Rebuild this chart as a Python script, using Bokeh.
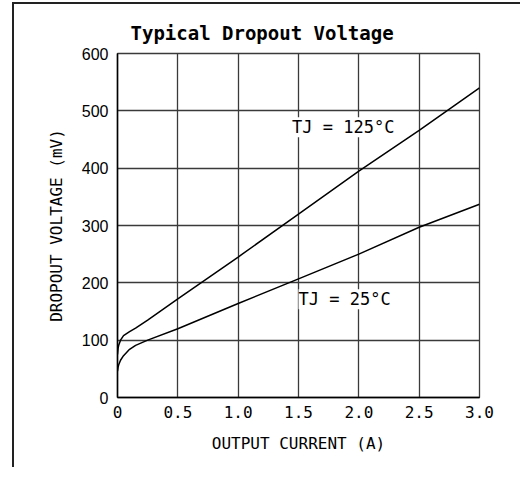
from bokeh.plotting import figure
from bokeh.models import Label, FixedTicker
from bokeh.embed import file_html
from bokeh.resources import INLINE

# Data
current_a = [0.0, 0.005, 0.01, 0.025, 0.05, 0.1, 0.15, 0.25, 0.5, 1.0, 1.5, 2.0, 2.5, 3.0]
dropout_125c = [75, 86, 91, 100, 108, 115, 121, 135, 172, 245, 320, 395, 466, 540]
dropout_25c = [46, 53, 57, 65, 73, 84, 91, 100, 120, 164, 207, 250, 297, 337]
x_ticks = [0, 0.5, 1.0, 1.5, 2.0, 2.5, 3.0]
x_tick_labels = ["0", "0.5", "1.0", "1.5", "2.0", "2.5", "3.0"]
y_ticks = [0, 100, 200, 300, 400, 500, 600]

MONO = "DejaVu Sans Mono"
SANS = "Liberation Sans"
GRID = "#3a3a3a"

p = figure(width=508, height=465, x_range=(0, 3.0), y_range=(0, 600),
           output_backend="svg", toolbar_location=None,
           min_border_left=103, min_border_right=43,
           min_border_top=49, min_border_bottom=72,
           title="Typical Dropout Voltage")
p.styles = {"border-left": "2px solid #222222", "border-top": "2px solid #222222",
            "margin-left": "12px", "margin-top": "2px"}

p.title.text_font = MONO
p.title.text_font_size = "19px"
p.title.text_font_style = "bold"
p.title.text_color = "black"
p.title.align = "left"
p.title.offset = 13
p.title.standoff = 19

p.line(current_a, dropout_125c, line_color="black", line_width=1.5)
p.line(current_a, dropout_25c, line_color="black", line_width=1.5)

# axes
p.xaxis.ticker = FixedTicker(ticks=x_ticks)
p.xaxis.major_label_overrides = {t: l for t, l in zip(x_ticks, x_tick_labels)}
p.yaxis.ticker = FixedTicker(ticks=y_ticks)
for ax in (p.xaxis[0], p.yaxis[0]):
    ax.major_tick_out = 0
    ax.major_tick_in = 0
    ax.minor_tick_out = 0
    ax.minor_tick_in = 0
    ax.axis_line_color = "black"
    ax.axis_line_width = 1.5
    ax.major_label_text_color = "black"
    ax.axis_label_text_color = "black"
    ax.axis_label_text_font_style = "normal"
    ax.axis_label_text_font = MONO
    ax.axis_label_text_font_size = "16px"

p.xaxis.axis_label = "OUTPUT CURRENT (A)"
p.xaxis.major_label_text_font = MONO
p.xaxis.major_label_text_font_size = "16px"
p.xaxis.major_label_standoff = 8
p.xaxis.axis_label_standoff = 13

p.yaxis.axis_label = "DROPOUT VOLTAGE (mV)"
p.yaxis.major_label_text_font = SANS
p.yaxis.major_label_text_font_size = "16px"
p.yaxis.major_label_standoff = 9
p.yaxis.axis_label_standoff = 13

p.grid.grid_line_color = GRID
p.grid.grid_line_width = 1.3
p.outline_line_color = GRID
p.outline_line_width = 1.3

for x, y, t in [(1.447, 471.5, "TJ = 125°C"), (1.50, 171.5, "TJ = 25°C")]:
    p.add_layout(Label(x=x, y=y, text=t, text_font=MONO, text_font_size="17px",
                       text_baseline="middle", text_align="left",
                       background_fill_color="white", text_color="black"))

open("out.html", "w").write(file_html(p, INLINE))
